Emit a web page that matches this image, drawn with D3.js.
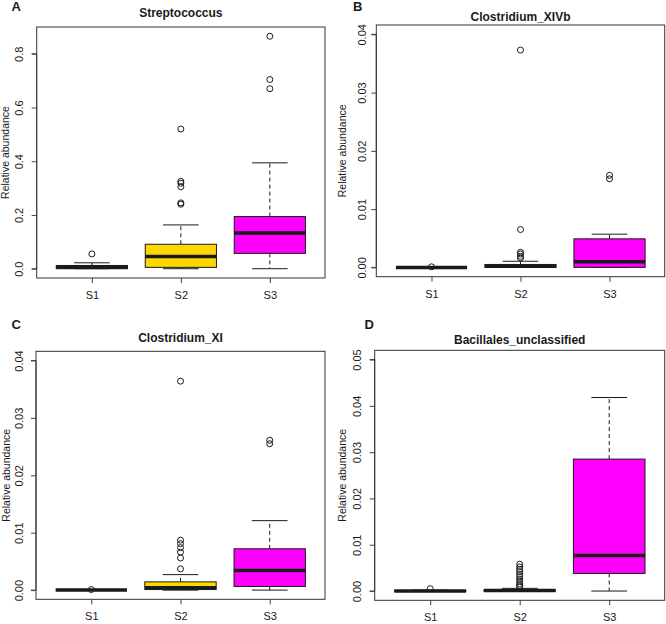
<!DOCTYPE html>
<html>
<head>
<meta charset="utf-8">
<script src="https://cdn.jsdelivr.net/npm/d3@7"></script>
<style>
  body { margin: 0; background: #fff; }
  svg { display: block; font-family: "Liberation Sans", Arial, sans-serif; }
</style>
</head>
<body>
<svg id="chart" width="666" height="624"></svg>
<script>
// ---------- data ----------
const groups = ["S1", "S2", "S3"];
const groupColors = ["#7a0a0a", "#FFD700", "#FF00FF"];

const panelLetters = ["A", "B", "C", "D"];
const panelTitles = ["Streptococcus", "Clostridium_XIVb", "Clostridium_XI", "Bacillales_unclassified"];
const yAxisTitle = "Relative abundance";

// y-axis limits (before R's 4% padding) and tick labels
const yLimits = [[0, 0.865], [0, 0.04], [0, 0.04], [0, 0.05]];
const yTicksA = ["0.0", "0.2", "0.4", "0.6", "0.8"];
const yTicksB = ["0.00", "0.01", "0.02", "0.03", "0.04"];
const yTicksC = ["0.00", "0.01", "0.02", "0.03", "0.04"];
const yTicksD = ["0.00", "0.01", "0.02", "0.03", "0.04", "0.05"];

// box stats per group: [lower whisker, Q1, median, Q3, upper whisker]
const statsA = [[0, 0, 0.005, 0.012, 0.022], [0, 0.005, 0.045, 0.091, 0.163], [0, 0.057, 0.133, 0.194, 0.394]];
const outliersA = [[0.055], [0.52, 0.325, 0.318, 0.305, 0.245, 0.240], [0.865, 0.704, 0.670]];

const statsB = [[0, 0, 0, 0, 0], [0, 0, 0.0002, 0.0005, 0.00105], [0, 0, 0.00098, 0.0049, 0.0057]];
const outliersB = [[0.0001], [0.0373, 0.0065, 0.0026, 0.0023, 0.0019, 0.0016], [0.0158, 0.0152]];

const statsC = [[0, 0, 0, 0, 0], [0, 0.0001, 0.0004, 0.00144, 0.0027], [0, 0.00063, 0.0034, 0.0072, 0.0121]];
const outliersC = [[0.0001], [0.0037, 0.0056, 0.0066, 0.0074, 0.0081, 0.0087, 0.0364], [0.0261, 0.0255]];

const statsD = [[0, 0, 0, 0.0001, 0.0002], [0, 0, 0.0001, 0.0002, 0.00058], [0, 0.0038, 0.0077, 0.0285, 0.0418]];
const outliersD = [[0.0005], [0.0009, 0.0012, 0.0016, 0.0021, 0.0026, 0.0031, 0.0036, 0.0042, 0.0047, 0.0052, 0.0058], []];

const allStats = [statsA, statsB, statsC, statsD];
const allOutliers = [outliersA, outliersB, outliersC, outliersD];
const allTicks = [yTicksA, yTicksB, yTicksC, yTicksD];

// ---------- layout (pixel geometry of each panel) ----------
const layout = [
  { l: 36.7, r: 325, t: 27, b: 278, letterX: 11.5, letterY: 10.8, titleY: 17, tickOff: 13.5, labOff: 27.5 },
  { l: 376.3, r: 664.7, t: 25, b: 276.7, letterX: 353, letterY: 11, titleY: 21, tickOff: 10, labOff: 30.5 },
  { l: 36, r: 325, t: 351.3, b: 599.3, letterX: 11.5, letterY: 328.8, titleY: 342, tickOff: 13.5, labOff: 26.5 },
  { l: 374.7, r: 664.7, t: 350.3, b: 600.3, letterX: 364.5, letterY: 329.3, titleY: 344, tickOff: 13.4, labOff: 28.4 }
];

const svg = d3.select("#chart");
const ink = "#1a1a1a";

layout.forEach((L, p) => {
  const g = svg.append("g");
  const [y0, y1] = yLimits[p];
  const pad = 0.04 * (y1 - y0);
  const y = d3.scaleLinear().domain([y0 - pad, y1 + pad]).range([L.b, L.t]);
  const x = d3.scaleLinear().domain([0.5 - 0.12, 3.5 + 0.12]).range([L.l, L.r]);
  const unit = x(2) - x(1);
  const boxW = 0.8 * unit, capW = 0.4 * unit;

  // panel letter
  g.append("text").attr("x", L.letterX).attr("y", L.letterY)
    .attr("font-size", 13).attr("font-weight", "bold").attr("fill", ink)
    .text(panelLetters[p]);
  // title
  g.append("text").attr("x", (L.l + L.r) / 2).attr("y", L.titleY)
    .attr("text-anchor", "middle").attr("font-size", 12).attr("font-weight", "bold").attr("fill", ink)
    .text(panelTitles[p]);

  // y axis
  const ticks = allTicks[p].map(Number);
  const yAxis = d3.axisLeft(y).tickValues(ticks).tickSize(5).tickFormat((d, i) => allTicks[p][i]);
  const ya = g.append("g").attr("transform", `translate(${L.l},0)`).call(yAxis);
  ya.select(".domain").attr("d", `M-5,${y(ticks[0])}H0V${y(ticks[ticks.length - 1])}H-5`).attr("stroke", "#444").attr("fill", "none");
  ya.selectAll(".tick line").attr("stroke", "#444");
  ya.selectAll(".tick text")
    .attr("x", null).attr("dy", null)
    .attr("transform", d => `translate(${-L.tickOff},0) rotate(-90)`)
    .attr("text-anchor", "middle").attr("font-size", 11).attr("fill", ink)
    .attr("font-family", "Liberation Sans, Arial, sans-serif");

  // y axis title
  g.append("text")
    .attr("transform", `translate(${L.l - L.labOff},${(L.t + L.b) / 2}) rotate(-90)`)
    .attr("text-anchor", "middle").attr("font-size", 10.5).attr("fill", ink)
    .text(yAxisTitle);

  // x axis
  const xa = g.append("g").attr("transform", `translate(0,${L.b})`)
    .call(d3.axisBottom(x).tickValues([1, 2, 3]).tickSize(5).tickFormat((d, i) => groups[i]));
  xa.select(".domain").remove();
  xa.selectAll(".tick line").attr("stroke", "#444");
  xa.selectAll(".tick text").attr("y", 21).attr("dy", null)
    .attr("font-size", 11).attr("fill", ink)
    .attr("font-family", "Liberation Sans, Arial, sans-serif");

  // boxes
  allStats[p].forEach((s, i) => {
    const cx = x(i + 1);
    const [lo, q1, med, q3, hi] = s;
    const bg = g.append("g");
    // whiskers (dashed)
    bg.append("line").attr("x1", cx).attr("x2", cx).attr("y1", y(q3)).attr("y2", y(hi))
      .attr("stroke", ink).attr("stroke-dasharray", "4,3");
    bg.append("line").attr("x1", cx).attr("x2", cx).attr("y1", y(q1)).attr("y2", y(lo))
      .attr("stroke", ink).attr("stroke-dasharray", "4,3");
    // staples
    [lo, hi].forEach(v => bg.append("line")
      .attr("x1", cx - capW / 2).attr("x2", cx + capW / 2).attr("y1", y(v)).attr("y2", y(v))
      .attr("stroke", ink));
    // box
    bg.append("rect").attr("x", cx - boxW / 2).attr("width", boxW)
      .attr("y", y(q3)).attr("height", Math.max(0, y(q1) - y(q3)))
      .attr("fill", groupColors[i]).attr("stroke", ink).attr("stroke-width", 1);
    // median
    bg.append("line").attr("x1", cx - boxW / 2).attr("x2", cx + boxW / 2)
      .attr("y1", y(med)).attr("y2", y(med)).attr("stroke", ink).attr("stroke-width", 3.5);
    // outliers
    bg.selectAll("circle").data(allOutliers[p][i]).join("circle")
      .attr("cx", cx).attr("cy", d => y(d)).attr("r", 3)
      .attr("fill", "none").attr("stroke", ink).attr("stroke-width", 1);
  });

  // plot frame
  g.append("rect").attr("x", L.l).attr("y", L.t).attr("width", L.r - L.l).attr("height", L.b - L.t)
    .attr("fill", "none").attr("stroke", "#333").attr("stroke-width", 1);
});
</script>
</body>
</html>
